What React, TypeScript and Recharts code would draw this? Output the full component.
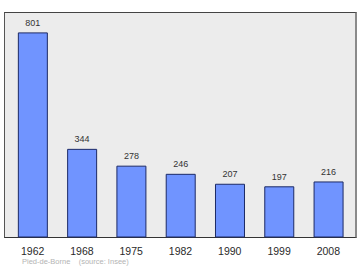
import { BarChart, Bar, XAxis, YAxis, LabelList } from 'recharts';

const years = ['1962', '1968', '1975', '1982', '1990', '1999', '2008'];
const population = [801, 344, 278, 246, 207, 197, 216];

const data = years.map((year, i) => ({ year, value: population[i] }));

export default function App() {
  return (
    <div style={{ position: 'absolute', left: 0, top: 0, width: 360, height: 270, background: '#fff' }}>
      <div
        style={{
          position: 'absolute',
          left: 4,
          top: 12,
          width: 350,
          height: 224,
          background: '#ececec',
          borderLeft: '1px solid #555',
          borderTop: '1px solid #444',
          borderBottom: '1px solid #333',
          borderRight: '2px solid #8a8a8a',
        }}
      />
      <div style={{ position: 'absolute', left: 0, top: 0 }}>
        <BarChart
          width={360}
          height={270}
          data={data}
          margin={{ top: 12, right: 7, bottom: 0, left: 8 }}
          barCategoryGap="21%"
        >
          <XAxis
            dataKey="year"
            height={33}
            axisLine={false}
            tickLine={false}
            tickMargin={5}
            tick={{ fontSize: 10.5, fill: '#2a2a2a', fontFamily: 'Liberation Sans, Arial, sans-serif' }}
            interval={0}
          />
          <YAxis hide domain={[0, 883]} />
          <Bar dataKey="value" fill="#7094ff" stroke="#1c2a66" strokeWidth={1} isAnimationActive={false}>
            <LabelList
              dataKey="value"
              position="top"
              offset={7}
              style={{ fontSize: 9, fill: '#333', fontFamily: 'Liberation Sans, Arial, sans-serif' }}
            />
          </Bar>
        </BarChart>
      </div>
      <div
        style={{
          position: 'absolute',
          left: 22,
          top: 257,
          fontSize: 7.5,
          color: '#b4b4b4',
          fontFamily: 'Liberation Sans, Arial, sans-serif',
          whiteSpace: 'pre',
        }}
      >
        {'Pied-de-Borne    (source: Insee)'}
      </div>
    </div>
  );
}
